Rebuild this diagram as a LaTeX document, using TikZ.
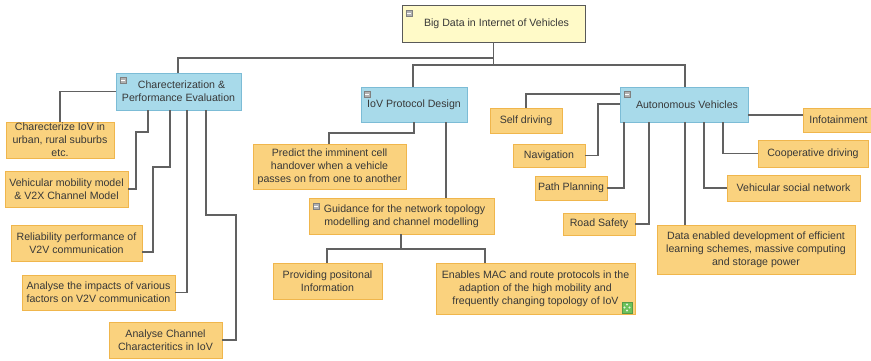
\documentclass[tikz,border=0pt]{standalone}
\usepackage{fontspec}
\setmainfont{Liberation Sans}
\begin{document}
\begin{tikzpicture}[x=1pt,y=-1pt,
  txt/.style={font=\fontsize{10.6}{12.8}\selectfont, text=black!78, align=center, inner sep=0pt},
  rootbox/.style={txt, fill=rootfill, draw=black!65, line width=0.9pt},
  topicbox/.style={txt, fill=topicfill, draw=topicline, line width=0.9pt},
  leafbox/.style={txt, fill=leaffill, draw=leafline, line width=0.9pt},
  link/.style={draw=black!62, line width=1.5pt},
  minusicon/.style={fill=black!30, draw=black!50, line width=0.3pt}]
\definecolor{rootfill}{HTML}{FFFAC8}
\definecolor{topicfill}{HTML}{A8DAEA}
\definecolor{topicline}{HTML}{7CBCD6}
\definecolor{leaffill}{HTML}{FAD27E}
\definecolor{leafline}{HTML}{F0B64C}
\definecolor{greenicon}{HTML}{6CC25A}

\useasboundingbox (0,0) rectangle (871,361);

% box from corner (x1,y1) to (x2,y2)
\newcommand\mmbox[7]{%
  \node[#6, minimum width={#4-#2}, minimum height={#5-#3}]
    (#1) at ({(#2+#4)/2},{(#3+#5)/2}) {#7};}
% collapse marker
\newcommand\collapsemark[2]{%
  \draw[minusicon] (#1,#2) rectangle ++(6.5,6.5);
  \draw[white, line width=1pt] (#1+1.3,#2+3.25) -- ++(3.9,0);}

% root and main topics
\mmbox{root}{402}{5}{585}{42}{rootbox}{\hspace*{6pt}Big Data in Internet of Vehicles}
\mmbox{char}{116}{73}{241}{110}{topicbox}{\hspace*{6pt}Charecterization \&\\Performance Evaluation}
\mmbox{iov}{361}{87}{467}{122}{topicbox}{IoV Protocol Design}
\mmbox{auto}{620}{87}{748}{122}{topicbox}{\hspace*{6pt}Autonomous Vehicles}

% characterization branch
\mmbox{c1}{6}{122}{114}{158}{leafbox}{Charecterize IoV in\\urban, rural suburbs\\etc.}
\mmbox{c2}{5}{171}{128}{207}{leafbox}{Vehicular mobility model\\\& V2X Channel Model}
\mmbox{c3}{11}{225}{142}{261}{leafbox}{Reliability performance of\\V2V communication}
\mmbox{c4}{22}{275}{175}{310}{leafbox}{Analyse the impacts of various\\factors on V2V communication}
\mmbox{c5}{109}{322}{222}{358}{leafbox}{Analyse Channel\\Characteritics in IoV}

% protocol branch
\mmbox{p1}{253}{144}{406}{189}{leafbox}{Predict the imminent cell\\handover when a vehicle\\passes on from one to another}
\mmbox{p2}{309}{198}{494}{234}{leafbox}{\hspace*{6pt}Guidance for the network topology\\modelling and channel modelling}
\mmbox{p3}{273}{263}{382}{299}{leafbox}{Providing positonal\\Information}
\mmbox{p4}{436}{263}{635}{314}{leafbox}{Enables MAC and route protocols in the\\adaption of the high mobility and\\frequently changing topology of IoV}

% autonomous branch
\mmbox{a1}{490}{108}{562}{133}{leafbox}{Self driving}
\mmbox{a2}{513}{144}{585}{167}{leafbox}{Navigation}
\mmbox{a3}{535}{176}{607}{200}{leafbox}{Path Planning}
\mmbox{a4}{563}{213}{635}{235}{leafbox}{Road Safety}
\mmbox{a5}{657}{225}{855}{274}{leafbox}{Data enabled development of efficient\\learning schemes, massive computing\\and storage power}
\mmbox{a6}{727}{175}{860}{201}{leafbox}{Vehicular social network}
\mmbox{a7}{758}{140}{868}{167}{leafbox}{Cooperative driving}
\mmbox{a8}{803}{108}{871}{132}{leafbox}{\hspace*{3pt}Infotainment}

% collapse markers
\collapsemark{406}{10}
\collapsemark{120}{77}
\collapsemark{364}{91}
\collapsemark{624}{91}
\collapsemark{313}{203}
% attachment marker
\draw[fill=greenicon, draw=greenicon!80!black, line width=0.3pt] (622,302) rectangle (632,313);
\fill[white!80!greenicon] (627,304.5) circle (1.1) (624.5,307.5) circle (1.1) (629.5,307.5) circle (1.1) (627,310.5) circle (1.1);

% root connectors
\draw[link] (root.south) -- (493.5,58) -| (char.north -| 178,0);
\draw[link] (root.south) -- (493.5,65) -| (iov.north -| 413,0);
\draw[link] (493.5,65) -| (auto.north -| 685,0);

% characterization connectors
\draw[link] (char.west) -| (c1.north -| 60,0);
\draw[link] (char.south -| 148,0) |- (136,132) |- (c2.east);
\draw[link] (char.south -| 170,0) |- (153,167) |- (c3.east |- 0,252);
\draw[link] (char.south -| 187,0) |- (c4.east);
\draw[link] (char.south -| 206,0) |- (236,215) |- (c5.east);

% protocol connectors
\draw[link] (iov.south -| 414,0) |- (329,133) -- (p1.north -| 329,0);
\draw[link] (iov.south -| 446,0) -- (p2.north -| 446,0);
\draw[link] (p2.south -| 401,0) -- (401,249) -| (p3.north -| 327,0);
\draw[link] (401,249) -| (p4.north -| 485,0);

% autonomous connectors
\draw[link] (auto.west |- 0,94) -| (a1.north -| 526,0);
\draw[link] (auto.west |- 0,104) -| (598,155.5) -- (a2.east);
\draw[link] (auto.south -| 624,0) |- (a3.east);
\draw[link] (auto.south -| 649,0) |- (a4.east);
\draw[link] (auto.south -| 685,0) -- (a5.north -| 685,0);
\draw[link] (auto.south -| 704,0) |- (a6.west);
\draw[link] (auto.south -| 723,0) |- (a7.west);
\draw[link] (auto.east |- 0,115) -- (a8.west |- 0,115);
\end{tikzpicture}
\end{document}
